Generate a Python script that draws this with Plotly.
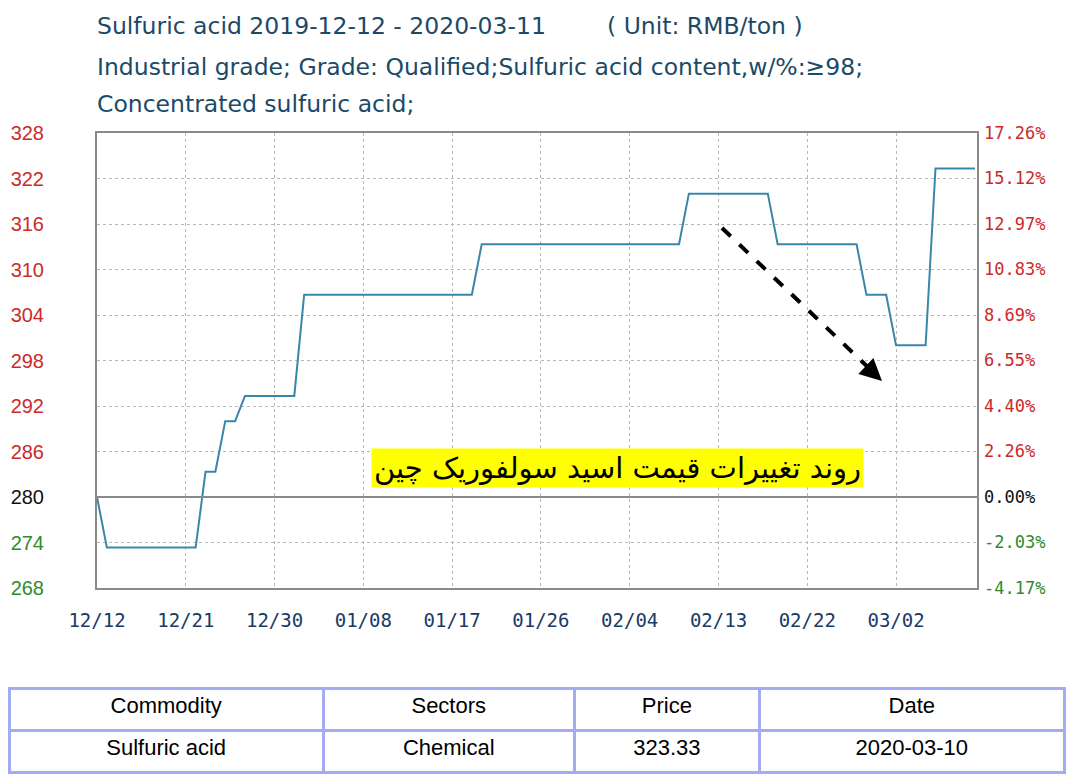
import plotly.graph_objects as go

# price change points (daily data, flat stretches in between)
dates = ["2019-12-12", "2019-12-13", "2019-12-22", "2019-12-23", "2019-12-24",
         "2019-12-25", "2019-12-26", "2019-12-27", "2020-01-01", "2020-01-02",
         "2020-01-19", "2020-01-20", "2020-02-09", "2020-02-10", "2020-02-18",
         "2020-02-19", "2020-02-27", "2020-02-28", "2020-03-01", "2020-03-02",
         "2020-03-05", "2020-03-06", "2020-03-10"]
prices = [280, 273.33, 273.33, 283.33, 283.33,
          290, 290, 293.33, 293.33, 306.67,
          306.67, 313.33, 313.33, 320, 320,
          313.33, 313.33, 306.67, 306.67, 300,
          300, 323.33, 323.33]

price_ticks = [268, 274, 280, 286, 292, 298, 304, 310, 316, 322, 328]
pct_labels = ["-4.17%", "-2.03%", "0.00%", "2.26%", "4.40%", "6.55%",
              "8.69%", "10.83%", "12.97%", "15.12%", "17.26%"]
date_ticks = ["2019-12-12", "2019-12-21", "2019-12-30", "2020-01-08", "2020-01-17",
              "2020-01-26", "2020-02-04", "2020-02-13", "2020-02-22", "2020-03-02"]
date_labels = ["12/12", "12/21", "12/30", "01/08", "01/17",
               "01/26", "02/04", "02/13", "02/22", "03/02"]

table_header = ["Commodity", "Sectors", "Price", "Date"]
table_row = ["Sulfuric acid", "Chemical", "323.33", "2020-03-10"]

base = 280
RED, GREEN, BLACK = "#cc2a2a", "#2e8b2e", "#111111"


def colored(labels):
    out = []
    for v, lab in zip(price_ticks, labels):
        c = RED if v > base else (GREEN if v < base else BLACK)
        out.append("<span style='color:%s'>%s</span>" % (c, lab))
    return out


# page body has an 8px margin, so the figure sits at (8, 8) in the window
OFF = 8
W, H = 1074 - OFF, 775 - OFF
px = lambda x: (x - OFF) / W
py = lambda y: 1 - (y - OFF) / H

fig = go.Figure()
fig.add_trace(go.Scatter(x=dates, y=prices, mode="lines",
                         line=dict(color="#3a86ab", width=2), showlegend=False))
fig.add_trace(go.Scatter(x=dates, y=prices, mode="lines", yaxis="y2",
                         line=dict(width=0), opacity=0, showlegend=False,
                         hoverinfo="skip"))

grid = dict(showgrid=True, gridcolor="#b8b8b8", griddash="dot", gridwidth=1)
fig.update_layout(
    width=W, height=H,
    margin=dict(l=0, r=0, t=0, b=0),
    paper_bgcolor="white", plot_bgcolor="white",
    xaxis=dict(domain=[px(97), px(977)], range=["2019-12-12", "2020-03-10 05:00"],
               tickvals=date_ticks, ticktext=date_labels, ticks="",
               tickfont=dict(family="DejaVu Sans Mono", size=19, color="#1a3a66"),
               ticklabelstandoff=14, showline=True, linecolor="#8a8a8a",
               linewidth=2, mirror=True, zeroline=False, automargin=False, **grid),
    yaxis=dict(domain=[py(588), py(133)], range=[268, 328],
               tickvals=price_ticks, ticktext=colored([str(v) for v in price_ticks]),
               ticks="", tickfont=dict(family="Liberation Sans", size=20),
               ticklabelstandoff=47, showline=True, linecolor="#8a8a8a",
               linewidth=2, mirror=True, zeroline=False, automargin=False, **grid),
    yaxis2=dict(overlaying="y", side="right", range=[268, 328],
                tickvals=price_ticks, ticktext=colored(pct_labels), ticks="",
                tickfont=dict(family="DejaVu Sans Mono", size=17),
                ticklabelstandoff=6, showgrid=False, zeroline=False,
                automargin=False),
)

# base price line
fig.add_shape(type="line", xref="paper", x0=px(97), x1=px(977), yref="y", y0=base, y1=base,
              line=dict(color="#8a8a8a", width=2))

# dashed trend arrow
fig.add_shape(type="line", xref="paper", yref="paper",
              x0=px(722), y0=py(228), x1=px(872), y1=py(371),
              line=dict(color="black", width=4, dash="dash"))
fig.add_annotation(xref="paper", yref="paper", x=px(882), y=py(381), text="",
                   showarrow=True, ax=-14, ay=-13, arrowhead=2, arrowsize=1.1,
                   arrowwidth=4, arrowcolor="black")

# Persian label
fig.add_annotation(xref="paper", yref="paper", x=px(617), y=py(468),
                   text="روند تغییرات قیمت اسید سولفوریک چین", showarrow=False,
                   font=dict(family="DejaVu Sans", size=29, color="black"),
                   bgcolor="#ffff00", borderpad=2)

# header text
title_font = dict(family="DejaVu Sans", size=23.5, color="#1b4a68")
titles = [("Sulfuric acid 2019-12-12 - 2020-03-11", 95, 26),
          ("( Unit: RMB/ton )", 605, 26),
          ("Industrial grade; Grade: Qualified;Sulfuric acid content,w/%:≥98;", 95, 67),
          ("Concentrated sulfuric acid;", 95, 104)]
for t, x, y in titles:
    fig.add_annotation(xref="paper", yref="paper", x=px(x), y=py(y), text=t,
                       xanchor="left", yanchor="middle", showarrow=False,
                       font=title_font)

fig.add_trace(go.Table(
    domain=dict(x=[px(9), px(1064)], y=[0, py(688)]),
    columnwidth=[317, 253, 187, 307],
    header=dict(values=table_header, height=42, align="center",
                fill_color="white", line=dict(color="#a3abf2", width=3),
                font=dict(family="Liberation Sans", size=22, color="black")),
    cells=dict(values=[[v] for v in table_row], height=42, align="center",
               fill_color="white", line=dict(color="#a3abf2", width=3),
               font=dict(family="Liberation Sans", size=22, color="black")),
))

fig.write_html("out.html")
